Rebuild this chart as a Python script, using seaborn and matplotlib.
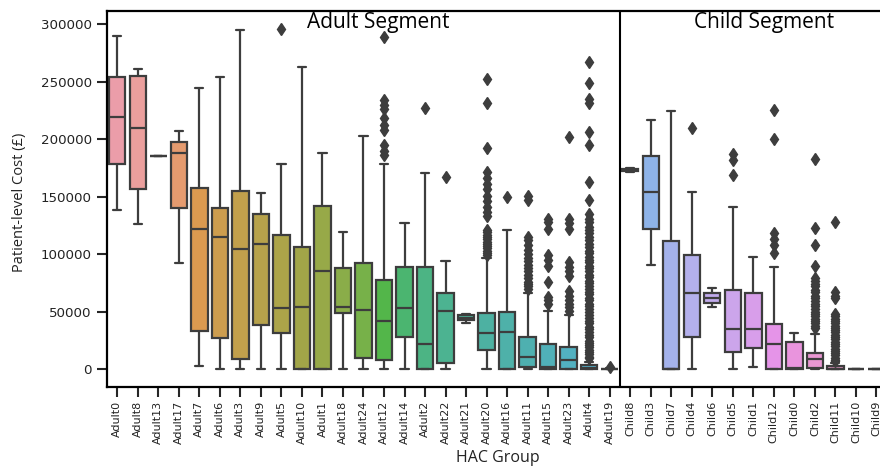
import pandas as pd
import matplotlib
matplotlib.use("Agg")
import matplotlib.pyplot as plt
import seaborn as sns

# HAC groups in plotted order
groups = ["Adult0", "Adult8", "Adult13", "Adult17", "Adult7", "Adult6", "Adult3", "Adult9",
          "Adult5", "Adult10", "Adult1", "Adult18", "Adult24", "Adult12", "Adult14", "Adult2",
          "Adult22", "Adult21", "Adult20", "Adult16", "Adult11", "Adult15", "Adult23", "Adult4",
          "Adult19",
          "Child8", "Child3", "Child7", "Child4", "Child6", "Child5", "Child1", "Child12",
          "Child0", "Child2", "Child11", "Child10", "Child9"]

# box summary (GBP)
whisker_low = [138400, 126200, 185000, 92100, 2900, 0, 0, 0,
               0, 0, 0, 0, 0, 0, 0, 0,
               0, 40000, 0, 0, 0, 0, 0, 0,
               0,
               171500, 90600, 0, 0, 53900, 0, 2300, 0,
               0, 0, 0, 0, 0]
q1 = [178400, 156400, 185000, 140100, 33300, 27500, 8700, 38500,
      31300, 500, 0, 49200, 9500, 8100, 28300, 0,
      5200, 42500, 16800, 0, 2300, 0, 0, 0,
      200,
      172500, 122200, 0, 28300, 57300, 14800, 18200, 0,
      0, 1000, 0, 0, 0]
median = [218900, 209400, 185000, 188200, 121600, 114700, 104800, 108600,
          53300, 53900, 85700, 53900, 51500, 42200, 53000, 22000,
          50700, 44500, 31300, 32700, 11000, 2000, 8100, 1000,
          300,
          173000, 153800, 500, 66600, 61700, 34800, 34800, 21700,
          1500, 8700, 500, 0, 0]
q3 = [253700, 254600, 185000, 197500, 157300, 140400, 155200, 134700,
      116700, 106500, 141900, 87700, 92600, 77600, 89100, 89000,
      66600, 47500, 49200, 50000, 28500, 21700, 19500, 3500,
      500,
      173800, 185600, 111500, 99000, 66000, 68900, 66600, 39100,
      24000, 14500, 2500, 0, 0]
whisker_high = [289600, 261200, 185000, 207300, 244100, 254200, 294800, 153400,
                178400, 263000, 187700, 119500, 202700, 178000, 127400, 170800,
                94400, 48000, 96400, 121000, 66000, 50900, 47500, 6600,
                900,
                174500, 216600, 224400, 154300, 70400, 140700, 97800, 89100,
                31300, 31000, 5500, 0, 0]

# outlier diamonds
outliers = {
    "Adult5": [295600],
    "Adult12": [289000, 234000, 230000, 226000, 218000, 212000, 208000, 195000, 190000, 186000],
    "Adult2": [227000],
    "Adult22": [167300],
    "Adult20": [252000, 231000, 192000, 171000, 166000, 161000, 157000, 151000, 146000, 141000,
                137000, 133000, 121000, 119000, 117000, 115000, 113000, 111000, 109000, 107000,
                105000, 103000, 101000, 99000],
    "Adult16": [149400],
    "Adult11": [151000, 147000, 115000, 112000, 108000, 104000, 100000, 97000, 94000, 91000,
                88000, 85000, 82000, 79000, 76000, 74000, 72000, 70000],
    "Adult15": [131000, 128000, 122000, 99000, 95000, 90000, 76000, 63000, 60000, 57000],
    "Adult23": [202000, 131000, 127000, 122000, 93000, 89000, 85000, 81000, 68000, 64000,
                60000, 57000, 54000, 51000],
    "Adult4": [267000, 249000, 235000, 231000, 206000, 195000, 163000, 147000, 135000, 131000,
               128000, 124000, 121000, 118000, 115000, 112000, 109000, 106000, 103000, 101000,
               98000, 95000, 93000, 90000, 88000, 85000, 82000, 80000, 77000, 75000,
               72000, 70000, 67000, 65000, 62000, 60000, 57000, 55000, 52000, 50000,
               47000, 45000, 42000, 40000, 37000, 35000, 32000, 30000, 28000, 25000,
               23000, 21000, 19000, 17000, 15000, 13000, 11000, 9500],
    "Adult19": [2000],
    "Child4": [210000],
    "Child5": [187000, 182000, 168800],
    "Child12": [225000, 200000, 118000, 113000, 108000, 101000],
    "Child2": [183000, 123000, 108000, 90000, 79000, 77000, 74000, 72000, 69000, 67000,
               64000, 62000, 59000, 57000, 55000, 52000, 50000, 48000, 46000, 44000,
               42000, 40000, 38000, 36000],
    "Child11": [128000, 67000, 64000, 62000, 48000, 46000, 44000, 42000, 40000, 38000,
                36000, 34000, 32000, 30000, 28000, 26000, 24000, 22000, 20000, 18000,
                16000, 14000, 12000, 10000, 8500, 7000],
}

# long table for seaborn: quartile values weighted so the computed box matches
rows = []
for i, g in enumerate(groups):
    extra = outliers.get(g, [])
    k = 2 * len(extra) + 4
    vals = ([whisker_low[i]] + [q1[i]] * k + [median[i]] * k + [q3[i]] * k
            + [whisker_high[i]] + extra)
    rows += [(g, v) for v in vals]
df = pd.DataFrame(rows, columns=["group", "cost"])

sns.set_theme(style="ticks")
plt.rcParams["font.family"] = ["DejaVu Sans"]

fig = plt.figure(figsize=(8.8, 4.68), dpi=100)
ax = fig.add_axes([0.1216, 0.173, 0.886, 0.8035])

line_col = "#3d3d3d"
sns.boxplot(data=df, x="group", y="cost", hue="group", order=groups, hue_order=groups,
            palette=sns.husl_palette(len(groups), l=0.72), saturation=0.75, legend=False,
            width=0.8, linecolor=line_col, linewidth=1.6, fliersize=6,
            flierprops=dict(marker="d", markerfacecolor=line_col, markeredgecolor=line_col),
            ax=ax)

ax.set_xlim(-0.5, len(groups) - 0.5)
ax.set_ylim(-15400, 311300)
ax.set_yticks(range(0, 300001, 50000))
ax.set_xlabel("")
ax.set_ylabel("")
ax.tick_params(axis="x", labelrotation=90, labelsize=8, length=7, width=1.5, pad=3,
               labelcolor="#222222")
ax.tick_params(axis="y", labelsize=9.6, length=7, width=1.5, pad=4, labelcolor="#222222")
for s in ax.spines.values():
    s.set_linewidth(1.6)
    s.set_color("black")

# segment divider
ax.axvline(24.5, color="black", linewidth=1.5)
ax.text(12.7, 0.998, "Adult Segment", transform=ax.get_xaxis_transform(),
        ha="center", va="top", fontsize=15, family="Open Sans", color="black")
ax.text(31.5, 0.998, "Child Segment", transform=ax.get_xaxis_transform(),
        ha="center", va="top", fontsize=15, family="Open Sans", color="black")

fig.text(20 / 880, 1 - 202 / 468, "Patient-level Cost (£)", rotation=90,
         ha="center", va="center", fontsize=10.5, family="Open Sans", color="#222222")
fig.text(498 / 880, 1 - 458 / 468, "HAC Group", ha="center", va="center",
         fontsize=11.5, family="Open Sans", color="#222222")

fig.savefig("out.png", dpi=100)
